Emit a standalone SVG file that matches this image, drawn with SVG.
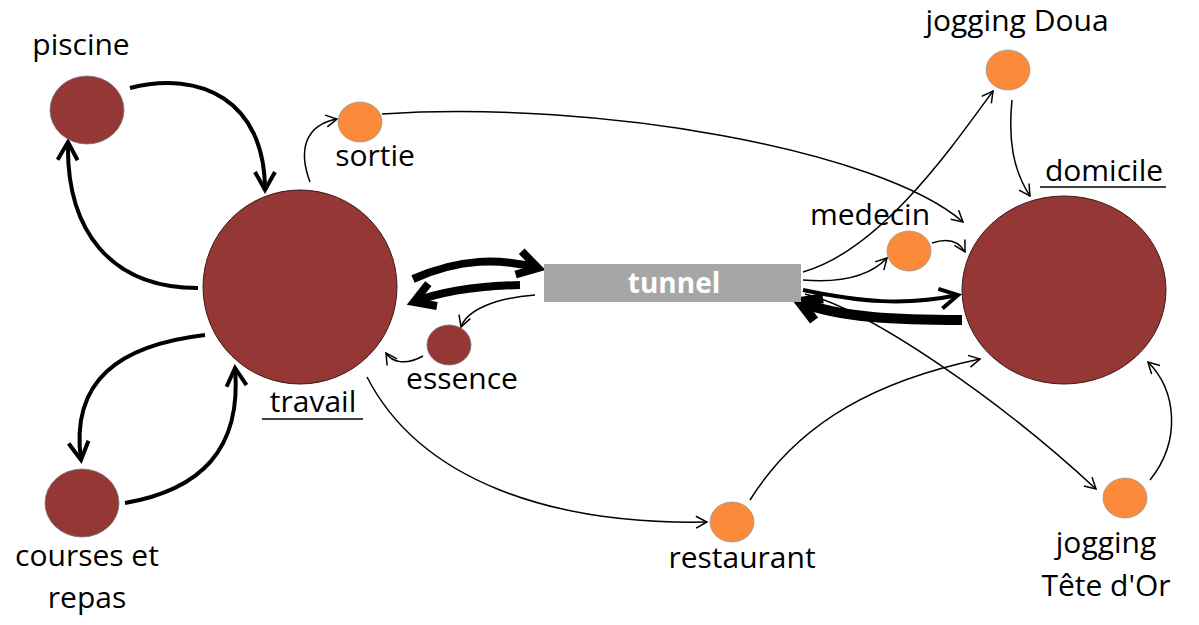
<svg xmlns="http://www.w3.org/2000/svg" width="1199" height="625" viewBox="0 0 1199 625">
<style>
.lbl{font-family:"Open Sans","Liberation Sans",sans-serif;font-size:30px;fill:#000;text-anchor:middle}
.big{fill:#953735;stroke:#3a1a19;stroke-width:1}
.sm{fill:#953735;stroke:#777;stroke-width:0.8}
.or{fill:#FB8B3B;stroke:#999;stroke-width:0.8}
.c1{fill:none;stroke:#000;stroke-width:1.5;marker-end:url(#a1)}
.c4{fill:none;stroke:#000;stroke-width:4;marker-end:url(#a4)}
.ul{stroke:#000;stroke-width:1.5}
</style>
<defs>
<marker id="a1" markerUnits="userSpaceOnUse" viewBox="0 0 14 14" markerWidth="14" markerHeight="14" refX="12" refY="7" orient="auto">
<path d="M1,1 L12,7 L1,13" fill="none" stroke="#000" stroke-width="1.5"/>
</marker>
<marker id="a4" markerUnits="userSpaceOnUse" viewBox="0 0 26 26" markerWidth="26" markerHeight="26" refX="21" refY="13" orient="auto">
<path d="M3,3 L21,13 L3,23" fill="none" stroke="#000" stroke-width="4"/>
</marker>
<marker id="a8" markerUnits="userSpaceOnUse" viewBox="0 0 34 34" markerWidth="34" markerHeight="34" refX="26" refY="17" orient="auto">
<path d="M6,5 L26,17 L6,29" fill="none" stroke="#000" stroke-width="8"/>
</marker>
<marker id="a10" markerUnits="userSpaceOnUse" viewBox="0 0 36 36" markerWidth="36" markerHeight="36" refX="28" refY="18" orient="auto">
<path d="M8,6 L28,18 L8,30" fill="none" stroke="#000" stroke-width="10"/>
</marker>
</defs>

<g id="connectors">
<path class="c4" d="M130,88 C200,70 265,100 265,190"/>
<path class="c4" d="M198,288 C110,288 66,230 68,142"/>
<path class="c4" d="M205,335 C120,345 70,380 81,460"/>
<path class="c4" d="M125,503 C200,490 242,450 235,368"/>
<path class="c1" d="M310,182 C298,150 305,125 337,119"/>
<path class="c1" d="M382,114 C600,100 880,150 963,222"/>
<path class="c1" d="M535,295 C495,298 467,310 461,327"/>
<path class="c1" d="M423,356 C405,366 392,362 386,353"/>
<path class="c1" d="M367,377 C420,480 550,525 707,522"/>
<path class="c1" d="M750,500 C800,420 880,380 980,359"/>
<path class="c1" d="M803,272 C880,250 950,150 993,91"/>
<path class="c1" d="M1012,100 C1008,140 1013,170 1030,196"/>
<path class="c1" d="M803,280 C840,283 870,276 887,258"/>
<path class="c1" d="M932,243 C950,237 960,243 965,252"/>
<path class="c1" d="M805,294 C870,310 1000,400 1096,489"/>
<path class="c1" d="M1150,480 C1182,440 1176,390 1148,362"/>
<path d="M413,279 C460,258 500,258 538,268" fill="none" stroke="#000" stroke-width="8" marker-end="url(#a8)"/>
<path d="M520,285 C480,286 445,290 414,302" fill="none" stroke="#000" stroke-width="8" marker-end="url(#a8)"/>
<path class="c4" d="M803,290 C860,302 905,306 958,295"/>
<path d="M962,320 C900,320 840,318 800,302" fill="none" stroke="#000" stroke-width="10" marker-end="url(#a10)"/>
</g>

<g id="travail">
<circle class="big" cx="300" cy="287" r="97"/>
<text class="lbl" x="313" y="412">travail</text>
<line class="ul" x1="262" y1="419" x2="363" y2="419"/>
</g>
<g id="domicile">
<ellipse class="big" cx="1064" cy="290" rx="102" ry="94"/>
<text class="lbl" x="1104" y="181">domicile</text>
<line class="ul" x1="1040" y1="187" x2="1166" y2="187"/>
</g>
<g id="piscine">
<ellipse class="sm" cx="87" cy="110" rx="37" ry="34"/>
<text class="lbl" x="81" y="55">piscine</text>
</g>
<g id="courses">
<ellipse class="sm" cx="82" cy="503" rx="37" ry="34"/>
<text class="lbl" x="87" y="566">courses et</text>
<text class="lbl" x="87" y="608">repas</text>
</g>
<g id="sortie">
<ellipse class="or" cx="360" cy="122" rx="22" ry="20"/>
<text class="lbl" x="375" y="166">sortie</text>
</g>
<g id="essence">
<ellipse class="sm" cx="449" cy="345" rx="22" ry="20"/>
<text class="lbl" x="462" y="389">essence</text>
</g>
<g id="tunnel">
<rect x="544" y="264" width="257" height="38" fill="#A6A6A6"/>
<text x="674" y="293" font-family="'Open Sans','Liberation Sans',sans-serif" font-size="28" font-weight="bold" fill="#fff" text-anchor="middle">tunnel</text>
</g>
<g id="medecin">
<ellipse class="or" cx="909" cy="251" rx="22" ry="20"/>
<text class="lbl" x="870" y="225">medecin</text>
</g>
<g id="jogging-doua">
<ellipse class="or" cx="1008" cy="70" rx="22" ry="20"/>
<text class="lbl" x="1017" y="31">jogging Doua</text>
</g>
<g id="jogging-tete-dor">
<ellipse class="or" cx="1125" cy="498" rx="22" ry="20"/>
<text class="lbl" x="1106" y="553">jogging</text>
<text class="lbl" x="1106" y="596">Tête d'Or</text>
</g>
<g id="restaurant">
<ellipse class="or" cx="732" cy="522" rx="22" ry="20"/>
<text class="lbl" x="742" y="568">restaurant</text>
</g>
</svg>
